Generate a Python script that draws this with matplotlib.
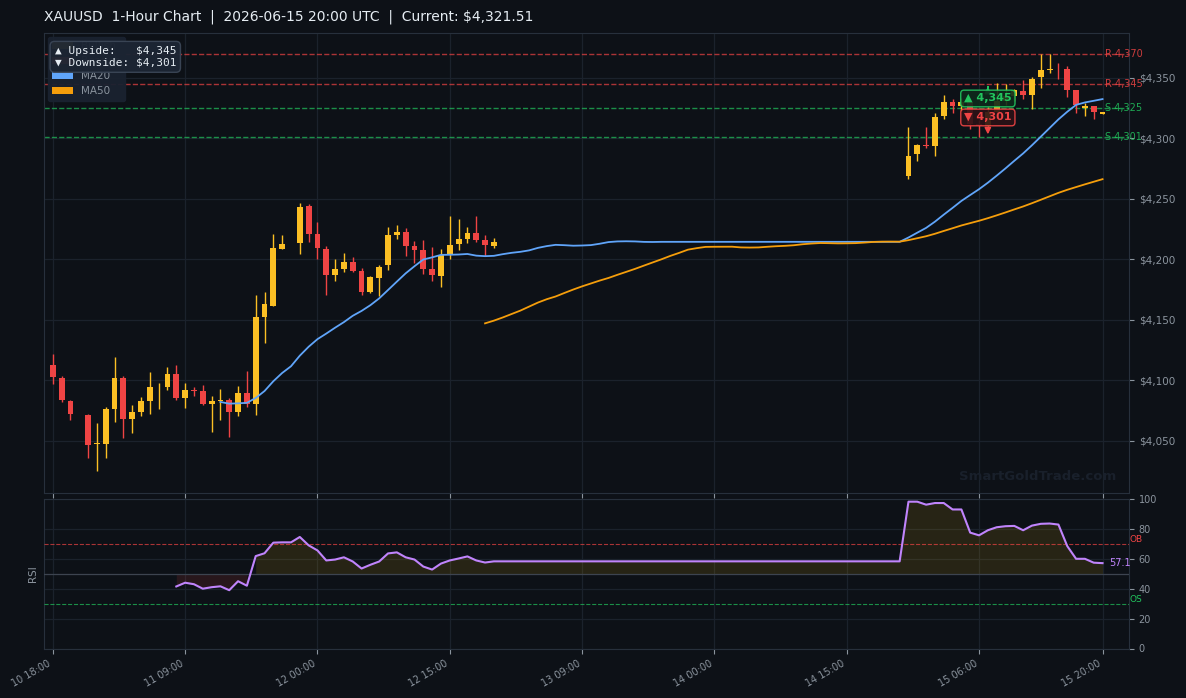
import numpy as np
import pandas as pd
import matplotlib
matplotlib.use("Agg")
import matplotlib.pyplot as plt
from matplotlib.patches import Patch

# ---------------- data ----------------
FLAT = 4214.4  # market-closed stretch: O=H=L=C, nothing drawn
N_FLAT = 46

OPEN = [4112.1, 4102.1, 4083.1, 4072.3, 4071.5, 4046.9, 4047.5, 4076.5, 4102.1, 4068.2,
        4073.2, 4083.1, 4094.7, 4094.7, 4105.4, 4084.8, 4092.2, 4090.6, 4080.6, 4082.3,
        4083.9, 4074.0, 4089.7, 4080.6, 4152.6, 4161.7, 4208.1, 4213.0, 4213.1, 4244.4,
        4220.6, 4208.6, 4187.2, 4191.9, 4197.8, 4190.3, 4172.8, 4184.4, 4195.3, 4220.3,
        4222.8, 4211.1, 4207.8, 4191.9, 4186.1, 4203.6, 4212.8, 4216.9, 4221.9, 4216.1,
        4211.1] + [FLAT] * N_FLAT + [
        4268.7, 4286.9, 4294.9, 4293.3, 4318.1, 4330.5, 4326.4, 4329.7, 4312.0, 4310.6,
        4322.0, 4331.0, 4335.0, 4339.6, 4336.3, 4350.4, 4356.2, 4357.8, 4357.0, 4340.4,
        4325.5, 4326.4, 4320.4]
HIGH = [4121.2, 4103.0, 4083.9, 4072.3, 4072.3, 4064.9, 4078.1, 4118.7, 4103.0, 4079.0,
        4086.4, 4107.1, 4098.0, 4111.2, 4112.9, 4097.2, 4094.7, 4096.3, 4087.2, 4093.0,
        4085.6, 4095.5, 4107.9, 4170.8, 4172.5, 4220.5, 4219.7, 4213.0, 4246.9, 4246.1,
        4231.1, 4211.1, 4200.3, 4205.3, 4201.9, 4192.8, 4186.1, 4195.3, 4226.9, 4228.6,
        4226.1, 4215.3, 4216.1, 4210.3, 4208.6, 4236.1, 4233.6, 4226.9, 4236.1, 4220.3,
        4217.8] + [FLAT] * N_FLAT + [
        4309.8, 4295.7, 4309.0, 4320.6, 4336.3, 4332.2, 4333.0, 4331.0, 4315.0, 4326.0,
        4346.0, 4344.6, 4341.0, 4348.7, 4350.4, 4369.4, 4370.2, 4362.0, 4359.5, 4340.4,
        4328.9, 4327.2, 4322.2]
LOW = [4096.6, 4081.7, 4066.6, 4072.3, 4035.9, 4025.2, 4035.9, 4065.7, 4051.7, 4056.6,
       4069.9, 4072.3, 4076.5, 4091.4, 4083.9, 4077.3, 4086.6, 4079.8, 4057.4, 4066.6,
       4053.3, 4069.9, 4078.1, 4071.5, 4131.1, 4161.0, 4208.1, 4213.0, 4204.7, 4213.9,
       4200.6, 4170.6, 4182.2, 4189.4, 4189.4, 4170.3, 4171.9, 4169.4, 4191.1, 4216.9,
       4202.8, 4196.9, 4187.8, 4181.9, 4176.9, 4200.3, 4207.8, 4213.6, 4214.4, 4202.8,
       4209.4] + [FLAT] * N_FLAT + [
       4266.2, 4281.1, 4291.9, 4285.8, 4316.4, 4321.4, 4323.0, 4307.6, 4301.0, 4310.5,
       4319.0, 4328.0, 4331.0, 4332.2, 4324.7, 4341.3, 4354.5, 4349.5, 4334.6, 4320.6,
       4318.1, 4316.4, 4320.0]
CLOSE = [4102.4, 4083.9, 4072.3, 4072.3, 4046.7, 4047.6, 4076.5, 4102.1, 4068.2, 4073.2,
         4083.1, 4094.7, 4094.7, 4105.4, 4085.6, 4092.2, 4090.6, 4080.6, 4082.3, 4083.9,
         4074.0, 4089.7, 4080.6, 4151.8, 4162.6, 4209.7, 4213.0, 4213.0, 4243.6, 4220.6,
         4208.9, 4187.2, 4191.9, 4197.8, 4190.3, 4172.8, 4185.3, 4193.6, 4220.3, 4222.8,
         4211.1, 4207.8, 4191.9, 4186.9, 4203.6, 4211.9, 4216.9, 4221.9, 4216.1, 4211.9,
         4214.4] + [FLAT] * N_FLAT + [
         4285.8, 4294.9, 4293.3, 4317.3, 4330.5, 4326.4, 4329.7, 4312.0, 4310.6, 4322.0,
         4331.0, 4335.0, 4339.9, 4336.3, 4349.5, 4356.2, 4357.8, 4357.4, 4340.4, 4328.0,
         4326.4, 4322.2, 4321.51]

# RSI(14) (undefined for the first 14 bars,
# constant while the market is closed)
RSI_FLAT = 58.3
RSI = [float("nan")] * 14 + [
    41.5, 44.0, 43.0, 40.0, 41.0, 41.6, 39.0, 45.0, 42.0, 61.8,
    63.7, 70.8, 71.0, 71.0, 74.6, 69.0, 65.6, 58.9, 59.5, 61.0,
    58.2, 53.5, 56.0, 58.2, 63.6, 64.3, 61.0, 59.5, 54.8, 52.8,
    56.8, 58.9, 60.2, 61.6, 58.9, 57.5] + [RSI_FLAT] * (N_FLAT + 1) + [
    98.2, 98.2, 96.2, 97.3, 97.3, 93.0, 93.0, 77.5, 75.7, 79.1,
    81.1, 81.8, 82.0, 79.1, 82.2, 83.4, 83.6, 82.9, 68.5, 60.0,
    60.0, 57.4, 57.1]

TICK_POS = [0, 15, 30, 45, 60, 75, 90, 105, 119]
TICK_LABELS = ["10 18:00", "11 09:00", "12 00:00", "12 15:00", "13 09:00",
               "14 00:00", "14 15:00", "15 06:00", "15 20:00"]

RES_LEVELS = [4370, 4345]
SUP_LEVELS = [4325, 4301]
UPSIDE = 4345
DOWNSIDE = 4301
TITLE = "XAUUSD  1-Hour Chart  |  2026-06-15 20:00 UTC  |  Current: $4,321.51"

# ---------------- style ----------------
BG = "#0d1117"
GRID = "#1b222c"
SPINE = "#27303c"
TXT = "#8b949e"
UP = "#fbbf24"
DN = "#ef4444"
GREEN = "#22c55e"
BLUE = "#60a5fa"
ORANGE = "#f59e0b"
PURPLE = "#c084fc"

close = pd.Series(CLOSE)
ma20 = close.rolling(20).mean()
ma50 = close.rolling(50).mean()
rsi = np.array(RSI, dtype=float)

n = len(CLOSE)
x = np.arange(n)

W, H = 1186, 698
fig = plt.figure(figsize=(W / 100, H / 100), dpi=100, facecolor=BG)
ax = fig.add_axes([44 / W, 1 - 492.5 / H, 1085 / W, 460 / H], facecolor=BG)
ax2 = fig.add_axes([44 / W, 1 - 648.5 / H, 1085 / W, 149.5 / H], facecolor=BG, sharex=ax)

for a in (ax, ax2):
    for s in a.spines.values():
        s.set_color(SPINE)
    a.grid(True, color=GRID, linewidth=0.9)
    a.set_axisbelow(True)
    a.yaxis.tick_right()
    a.tick_params(colors=TXT, labelcolor=TXT, length=3.5, width=0.8)

# candles
for i in range(n):
    o, h, l, c = OPEN[i], HIGH[i], LOW[i], CLOSE[i]
    if h == l:
        continue
    col = UP if c >= o else DN
    ax.vlines(i, l, h, color=col, linewidth=1.0, zorder=3)
    if c != o:
        ax.bar(i, abs(c - o), bottom=min(o, c), width=0.66, color=col,
               linewidth=0, zorder=4)

ax.plot(x, ma20, color=BLUE, linewidth=1.3, zorder=5)
ax.plot(x, ma50, color=ORANGE, linewidth=1.3, zorder=5)

for lv in RES_LEVELS:
    ax.axhline(lv, color=DN, linestyle="--", linewidth=1.0, alpha=0.7, zorder=2)
    ax.text(n - 1 + 0.3, lv, f"R {lv:,}", color=DN, fontsize=7, va="center",
            ha="left", alpha=0.85, clip_on=False, zorder=6)
for lv in SUP_LEVELS:
    ax.axhline(lv, color=GREEN, linestyle="--", linewidth=1.0, alpha=0.7, zorder=2)
    ax.text(n - 1 + 0.3, lv, f"S {lv:,}", color=GREEN, fontsize=7, va="center",
            ha="left", alpha=0.85, clip_on=False, zorder=6)

# target annotations
ax.annotate(f"\u25B2 {UPSIDE:,}", xy=(106, UPSIDE), xytext=(106, 4333.0),
            color=GREEN, fontsize=8, fontweight="bold", ha="center", va="center",
            bbox=dict(boxstyle="round,pad=0.3", fc="#0f2a1c", ec=GREEN, lw=1.0, alpha=0.9),
            arrowprops=dict(arrowstyle="-|>", color=GREEN, lw=1.2, mutation_scale=9),
            zorder=8)
ax.annotate(f"\u25BC {DOWNSIDE:,}", xy=(106, DOWNSIDE), xytext=(106, 4317.3),
            color=DN, fontsize=8, fontweight="bold", ha="center", va="center",
            bbox=dict(boxstyle="round,pad=0.3", fc="#2c1116", ec=DN, lw=1.0, alpha=0.9),
            arrowprops=dict(arrowstyle="-|>", color=DN, lw=1.2, mutation_scale=9),
            zorder=8)

ax.set_xlim(-1, n + 2)
ax.set_ylim(4007.0, 4387.6)
yt = [4050, 4100, 4150, 4200, 4250, 4300, 4350]
ax.set_yticks(yt)
ax.set_yticklabels([f"${v:,}" for v in yt], fontsize=7.5)
ax.set_xticks(TICK_POS)
ax.tick_params(axis="x", labelbottom=False)

leg = ax.legend(handles=[Patch(fc=UP, label="Bullish"), Patch(fc=DN, label="Bearish"),
                         Patch(fc=BLUE, label="MA20"), Patch(fc=ORANGE, label="MA50")],
                loc="upper left", fontsize=7.5, facecolor="#1a2230", edgecolor="#1a2230",
                framealpha=0.95, labelcolor=TXT, borderaxespad=0.4)
leg.set_zorder(9)

ax.text(0.0097, 0.971, f"\u25B2 Upside:   ${UPSIDE:,}\n\u25BC Downside: ${DOWNSIDE:,}",
        transform=ax.transAxes, family="DejaVu Sans Mono", fontsize=8, color="#e6edf3",
        va="top", ha="left", linespacing=1.25, zorder=10,
        bbox=dict(boxstyle="round,pad=0.4", fc="#1c2533", ec="#3b4656", lw=1.0, alpha=0.97))

ax.text(0.988, 0.035, "SmartGoldTrade.com", transform=ax.transAxes, ha="right",
        va="center", fontsize=9.5, fontweight="bold", color="#19202b", zorder=1)

fig.text(44 / W, 1 - 17 / H, TITLE, color="#e6edf3", fontsize=10, ha="left", va="center")

# RSI panel
ax2.plot(x, rsi, color=PURPLE, linewidth=1.5, zorder=5)
ax2.fill_between(x, rsi, 50, where=(rsi >= 50), color="#eab308", alpha=0.12,
                 linewidth=0, zorder=2)
ax2.fill_between(x, rsi, 50, where=(rsi < 50), color=DN, alpha=0.12,
                 linewidth=0, zorder=2)
ax2.axhline(70, color=DN, linestyle="--", linewidth=0.8, alpha=0.7, zorder=3)
ax2.axhline(30, color=GREEN, linestyle="--", linewidth=0.8, alpha=0.7, zorder=3)
ax2.axhline(50, color="#3d4450", linewidth=0.9, zorder=3)
ax2.text(1.0, 70, "OB", transform=ax2.get_yaxis_transform(), color=DN, fontsize=6.5,
         ha="left", va="bottom", clip_on=False)
ax2.text(1.0, 30, "OS", transform=ax2.get_yaxis_transform(), color=GREEN, fontsize=6.5,
         ha="left", va="bottom", clip_on=False)
last_rsi = rsi[-1]
ax2.text(n - 1 + 0.7, last_rsi, f"{last_rsi:.1f}", color=PURPLE, fontsize=7,
         ha="left", va="center", clip_on=False)
ax2.set_ylim(0, 100)
ax2.set_yticks([0, 20, 40, 60, 80, 100])
ax2.tick_params(axis="y", labelsize=7)
ax2.set_ylabel("RSI", color=TXT, fontsize=7.5)
ax2.yaxis.set_label_position("left")
ax2.set_xticks(TICK_POS)
ax2.set_xticklabels(TICK_LABELS, rotation=30, ha="right", fontsize=7)

fig.savefig("out.png", dpi=100, facecolor=BG)
